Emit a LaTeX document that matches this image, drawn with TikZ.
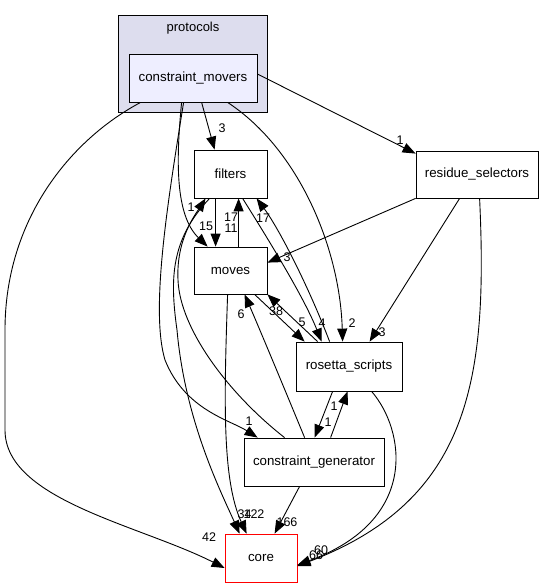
\documentclass[tikz,border=0pt]{standalone}
\usepackage{fontspec}
\setmainfont{Liberation Sans}
\usetikzlibrary{arrows.meta}
\definecolor{clusterfill}{HTML}{DDDDEE}
\definecolor{cmfill}{HTML}{EEEEFF}
\tikzset{
  dirbox/.style={draw=black, line width=0.8pt, fill=white, rectangle, inner sep=0pt, font=\fontsize{13.3}{15}\selectfont},
  edge/.style={draw=black, line width=0.9pt, -{Triangle[length=13pt,width=10pt]}},
  elabel/.style={font=\fontsize{12.5}{13}\selectfont, inner sep=0pt}
}
\begin{document}
\begin{tikzpicture}[x=1pt,y=-1pt]
\useasboundingbox (0,0) rectangle (544,588);
% cluster
\node[draw=black, line width=0.8pt, fill=clusterfill, minimum width=149pt, minimum height=97pt, inner sep=0pt] (protocols) at (192.5,63.5) {};
\node[font=\fontsize{13}{15}\selectfont] (protlabel) at (193,28) {protocols};
% nodes
\node[dirbox, fill=cmfill, minimum width=128pt, minimum height=48pt] (cm) at (193,78) {constraint\_movers};
\node[dirbox, minimum width=73pt, minimum height=48pt] (filters) at (230.5,174) {filters};
\node[dirbox, minimum width=73pt, minimum height=47pt] (moves) at (230.5,270.5) {moves};
\node[dirbox, minimum width=106pt, minimum height=49pt] (rs) at (349,366.5) {rosetta\_scripts};
\node[dirbox, minimum width=140pt, minimum height=48pt] (cg) at (314,462) {constraint\_generator};
\node[dirbox, draw=red, minimum width=72pt, minimum height=48pt] (core) at (261,558) {core};
\node[dirbox, minimum width=122pt, minimum height=47pt] (res) at (477,174.5) {residue\_selectors};

% edges
\draw[edge] ([xshift=73pt]cm.south west) -- ([xshift=21pt]filters.north west);
\node[elabel] (l1) at (222,128) {3};
\draw[edge] ([yshift=4pt]cm.east) -- ([yshift=-3pt]res.north west);
\node[elabel] (l2) at (400,140) {1};
\draw[edge] ([xshift=12pt]cm.south west) .. controls (70,140) and (5,220) .. (5,330) -- (5,430) .. controls (5,500) and (140,525) .. ([yshift=-10pt]core.west);
\node[elabel] (l3) at (209,537) {42};
\draw[edge] ([xshift=53pt]cm.south west) .. controls (176,160) and (175,215) .. ([xshift=14pt]moves.north west);
\node[elabel] (l4) at (206,226) {15};
\draw[edge] ([xshift=55pt]cm.south west) .. controls (168,200) and (150,310) .. (165,360) .. controls (185,410) and (230,420) .. ([xshift=14pt]cg.north west);
\node[elabel] (l5) at (249,421) {1};
\draw[edge] ([xshift=99pt]cm.south west) .. controls (300,150) and (340,250) .. ([xshift=47pt]rs.north west);
\node[elabel] (l6) at (352,323) {2};
\draw[edge] ([xshift=22pt]filters.south west) -- ([xshift=22pt]moves.north west);
\node[elabel] (l7) at (231,228) {11};
\draw[edge] ([xshift=45pt]moves.north west) -- ([xshift=45pt]filters.south west);
\node[elabel] (l8) at (231,217) {17};
\draw[edge] ([xshift=34pt]rs.north west) .. controls (310,290) and (280,230) .. ([xshift=63pt]filters.south west);
\node[elabel] (l9) at (263,218) {17};
\draw[edge] ([xshift=49pt]filters.south west) .. controls (275,250) and (305,300) .. ([xshift=26pt]rs.north west);
\node[elabel] (l10) at (322,323) {4};
\draw[edge] ([xshift=16pt]filters.south west) .. controls (170,240) and (170,280) .. (177,330) .. controls (185,420) and (220,490) .. ([xshift=15pt]core.north west);
\node[elabel] (l11) at (244.5,514) {34};
\draw[edge] ([xshift=41pt]cg.north west) .. controls (230,395) and (180,330) .. (178,280) .. controls (176,240) and (195,215) .. ([xshift=12pt]filters.south west);
\node[elabel] (l12) at (191,207) {1};
\draw[edge] ([xshift=34pt]moves.south west) .. controls (224,400) and (222,480) .. ([xshift=22pt]core.north west);
\node[elabel] (l13) at (254,514) {122};
\draw[edge] ([xshift=61pt]cg.north west) .. controls (285,390) and (260,330) .. ([xshift=51pt]moves.south west);
\node[elabel] (l14) at (241,314) {6};
\draw[edge] ([xshift=61pt]moves.south west) -- ([xshift=9pt]rs.north west);
\node[elabel] (l15) at (302,322) {5};
\draw[edge] ([xshift=22pt]rs.north west) -- (moves.south east);
\node[elabel] (l16) at (276,311) {38};
\draw[edge] (res.south west) -- ([yshift=-16pt]moves.north east);
\node[elabel] (l17) at (287,257) {3};
\draw[edge] ([xshift=44pt]res.south west) -- ([xshift=74pt]rs.north west);
\node[elabel] (l18) at (382,332) {3};
\draw[edge] ([xshift=64pt]res.south west) .. controls (488,380) and (470,500) .. ([yshift=-8pt]core.east);
\node[elabel] (l19) at (321,550) {60};
\draw[edge] ([xshift=76pt]rs.south west) .. controls (405,430) and (420,520) .. ([yshift=-7pt]core.east);
\node[elabel] (l20) at (316,555) {66};
\draw[edge] ([xshift=37pt]rs.south west) -- ([xshift=71pt]cg.north west);
\node[elabel] (l21) at (328,422) {1};
\draw[edge] ([xshift=87pt]cg.north west) -- ([xshift=52pt]rs.south west);
\node[elabel] (l22) at (334,406) {1};
\draw[edge] ([xshift=56pt]cg.south west) -- ([xshift=50pt]core.north west);
\node[elabel] (l23) at (287,522) {166};
\end{tikzpicture}
\end{document}
